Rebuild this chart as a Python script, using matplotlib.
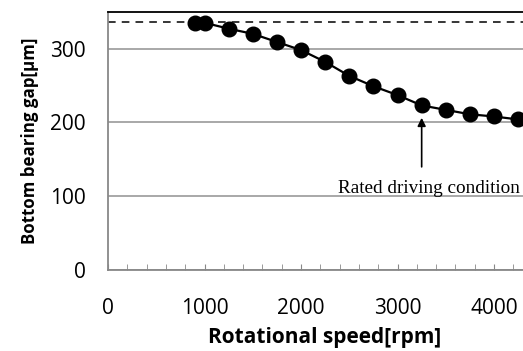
import matplotlib.pyplot as plt
from matplotlib.ticker import MultipleLocator

# data
speed = [900, 1000, 1250, 1500, 1750, 2000, 2250, 2500, 2750, 3000, 3250, 3500, 3750, 4000, 4250]
gap = [335, 335, 327, 320, 309, 298, 282, 263, 249, 237, 223, 217, 211, 208, 204]
initial_gap = 336
rated_speed = 3250
rated_gap = 223
x_ticks = [0, 1000, 2000, 3000, 4000]
y_ticks = [0, 100, 200, 300]

fig = plt.figure(figsize=(5.23, 3.51), dpi=100)
ax = fig.add_axes([108 / 523, 1 - 270 / 351, 1 - 108 / 523, (270 - 11.7) / 351])

ax.axhline(initial_gap, color='black', linestyle=(0, (5, 4)), linewidth=1.1)
ax.plot(speed, gap, color='black', linewidth=1.6, marker='o', markersize=10.5, zorder=3)

ax.set_xlim(0, 4300)
ax.set_ylim(0, 350)
ax.set_yticks(y_ticks)
ax.set_xticks(x_ticks)
ax.xaxis.set_minor_locator(MultipleLocator(200))
ax.grid(axis='y', color='#999999', linewidth=1.2)
ax.set_axisbelow(True)

for side in ['left', 'bottom']:
    ax.spines[side].set_color('#888888')
    ax.spines[side].set_linewidth(1.3)
ax.spines['top'].set_color('black')
ax.spines['top'].set_linewidth(1.3)
ax.spines['right'].set_visible(False)

ax.tick_params(axis='y', length=0, pad=16, labelsize=15)
ax.tick_params(axis='x', which='both', direction='in', length=4, color='#888888', pad=20, labelsize=15)
for lab in ax.get_xticklabels() + ax.get_yticklabels():
    lab.set_fontfamily('Open Sans')

ax.set_xlabel('Rotational speed[rpm]', fontsize=15, fontweight='bold', family='Open Sans')
ax.xaxis.set_label_coords((325 - 108) / 415, -(338 - 270) / 258.3, transform=ax.transAxes)
ax.xaxis.label.set_va('center')
ax.set_ylabel('Bottom bearing gap[μm]', fontsize=12.2, fontweight='bold', family='Open Sans')
ax.yaxis.set_label_coords(-(108 - 30) / 415, (270 - 141) / 258.3, transform=ax.transAxes)
ax.yaxis.label.set_va('center')

ax.annotate('', xy=(rated_speed, rated_gap - 13), xytext=(rated_speed, 136),
            arrowprops=dict(arrowstyle='-|>', color='black', linewidth=1.2, mutation_scale=12))
ax.text(rated_speed + 75, 104, 'Rated driving condition', family='Liberation Serif',
        fontsize=13.8, ha='center', va='baseline')

fig.savefig('out.png', dpi=100)
